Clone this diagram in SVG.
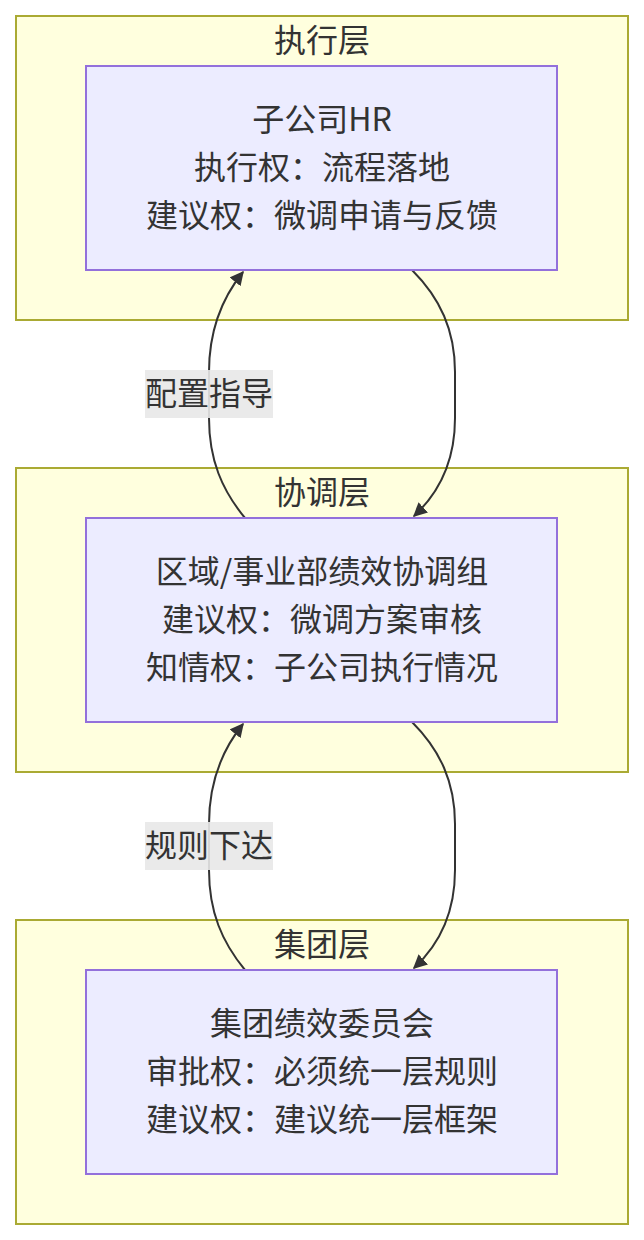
<svg xmlns="http://www.w3.org/2000/svg" width="644" height="1240" viewBox="0 0 644 1240">
<style>
.cluster{fill:#ffffde;stroke:#aaaa33;stroke-width:2}
.node{fill:#ececff;stroke:#9370db;stroke-width:2}
text{font-family:"Noto Sans CJK SC","Noto Sans",sans-serif;fill:#333;text-anchor:middle}
.t{font-size:32px}
.edge{fill:none;stroke:#333;stroke-width:2}
.lbg{fill:#e8e8e8;opacity:0.9}
</style>
<defs>
<marker id="arr" viewBox="0 0 10 10" refX="9" refY="5" markerWidth="14" markerHeight="14" markerUnits="userSpaceOnUse" orient="auto">
<path d="M0,0 L10,5 L0,10 z" fill="#333"/>
</marker>
</defs>
<rect width="644" height="1240" fill="#fff"/>
<g id="cluster-exec"><rect class="cluster" x="16" y="16" width="612" height="304"/><text class="t" x="322" y="52">执行层</text></g>
<g id="cluster-coord"><rect class="cluster" x="16" y="468" width="612" height="304"/><text class="t" x="322" y="504">协调层</text></g>
<g id="cluster-group"><rect class="cluster" x="16" y="920" width="612" height="304"/><text class="t" x="322" y="956">集团层</text></g>
<g id="edges">
<path class="edge" d="M412,270 C440,298 455,330 455,372 L455,418 C455,460 440,492 414,516" marker-end="url(#arr)"/>
<path class="edge" d="M245,518 C222,490 209,460 209,418 L209,372 C209,330 222,298 243,272" marker-end="url(#arr)"/>
<path class="edge" d="M412,722 C440,750 455,782 455,824 L455,870 C455,912 440,944 414,968" marker-end="url(#arr)"/>
<path class="edge" d="M245,970 C222,942 209,912 209,870 L209,824 C209,782 222,750 243,724" marker-end="url(#arr)"/>
<g id="label-1"><rect class="lbg" x="145" y="370" width="128" height="48"/><text class="t" x="209" y="405">配置指导</text></g>
<g id="label-2"><rect class="lbg" x="145" y="822" width="128" height="48"/><text class="t" x="209" y="857">规则下达</text></g>
</g>
<g id="node-hr"><rect class="node" x="86" y="66" width="471" height="204"/>
<text class="t" x="322" y="131">子公司HR</text><text class="t" x="322" y="179">执行权：流程落地</text><text class="t" x="322" y="227">建议权：微调申请与反馈</text></g>
<g id="node-coord"><rect class="node" x="86" y="518" width="471" height="204"/>
<text class="t" x="322" y="583">区域/事业部绩效协调组</text><text class="t" x="322" y="631">建议权：微调方案审核</text><text class="t" x="322" y="679">知情权：子公司执行情况</text></g>
<g id="node-group"><rect class="node" x="86" y="970" width="471" height="204"/>
<text class="t" x="322" y="1035">集团绩效委员会</text><text class="t" x="322" y="1083">审批权：必须统一层规则</text><text class="t" x="322" y="1131">建议权：建议统一层框架</text></g>
</svg>
